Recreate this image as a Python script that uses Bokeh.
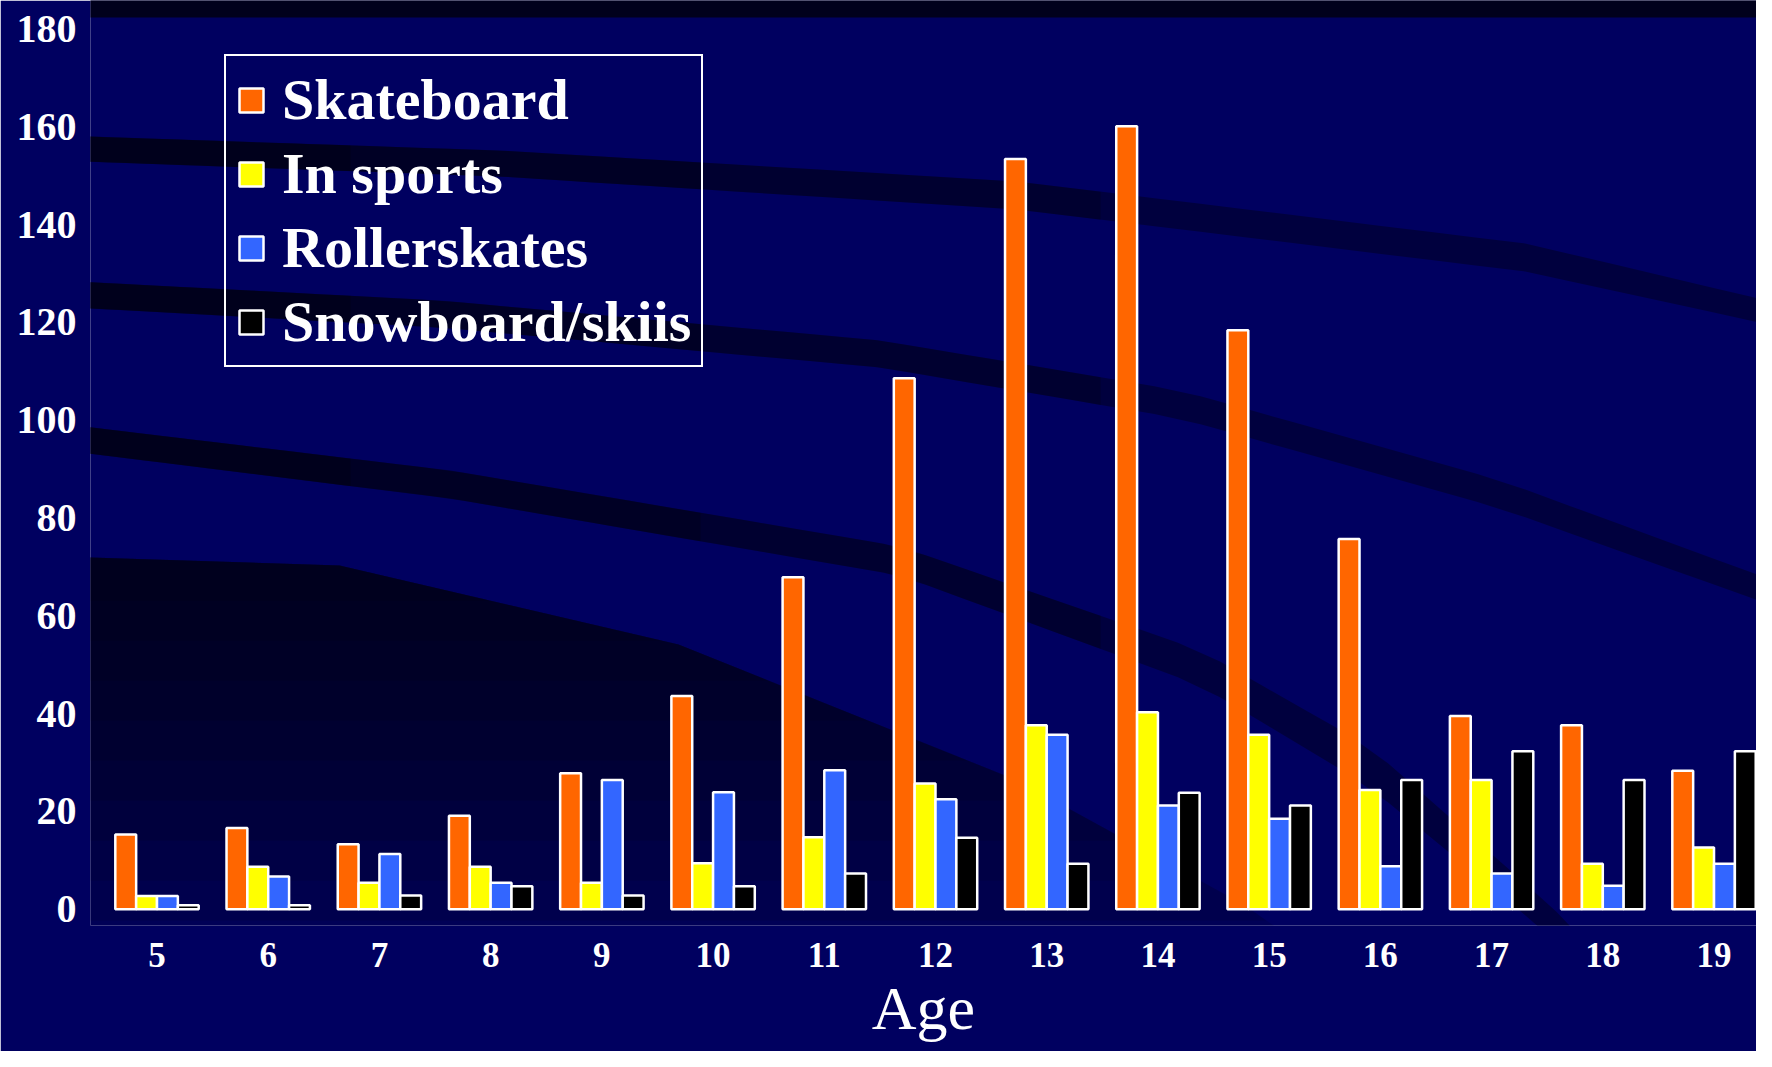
import numpy as np
from bokeh.plotting import figure
from bokeh.models import ColumnDataSource, FixedTicker, Range1d, Legend, LegendItem, PolyAnnotation
from bokeh.transform import dodge
from bokeh.embed import file_html
from bokeh.resources import INLINE

# ---------------- data ----------------
ages = [5, 6, 7, 8, 9, 10, 11, 12, 13, 14, 15, 16, 17, 18, 19]
skateboard = [15.3, 16.6, 13.3, 19.1, 27.8, 43.6, 67.9, 108.6, 153.4, 160.1, 118.4, 75.7, 39.5, 37.6, 28.3]
in_sports = [2.7, 8.7, 5.4, 8.7, 5.4, 9.4, 14.7, 25.7, 37.6, 40.3, 35.7, 24.4, 26.4, 9.3, 12.6]
rollerskates = [2.7, 6.7, 11.3, 5.4, 26.4, 23.9, 28.4, 22.5, 35.7, 21.2, 18.5, 8.8, 7.3, 4.8, 9.3]
snowboard_skiis = [0.8, 0.8, 2.8, 4.7, 2.8, 4.7, 7.3, 14.6, 9.3, 23.8, 21.2, 26.4, 32.3, 26.4, 32.3]
series_names = ["Skateboard", "In sports", "Rollerskates", "Snowboard/skiis"]
y_ticks = [0, 20, 40, 60, 80, 100, 120, 140, 160, 180]
x_label = "Age"

colors = ["#FF6600", "#FFFF00", "#3366FF", "#000000"]
BG = "#000060"

src = ColumnDataSource(dict(age=ages, s0=skateboard, s1=in_sports, s2=rollerskates, s3=snowboard_skiis))

X0, X1 = 4.402, 19.382
Y0, Y1 = -3.33, 185.83
p = figure(width=1756, height=1051, output_backend="svg", toolbar_location=None,
           x_range=Range1d(X0, X1), y_range=Range1d(Y0, Y1),
           min_border_left=90, min_border_right=0, min_border_top=0, min_border_bottom=126)
p.title.visible = False
p.background_fill_color = BG
p.border_fill_color = BG
p.outline_line_color = None
p.grid.visible = False

# ---------------- decorative background swooshes (pixel positions -> frame) ----------------
def dx(px):
    return X0 + (np.asarray(px, dtype=float) - 90) / 111.21

def dy(py):
    return (908.7 - np.asarray(py, dtype=float)) / 4.89

def poly(xs, ys, alpha):
    p.add_layout(PolyAnnotation(xs=list(dx(xs)), ys=list(dy(ys)),
                                fill_color="#000000", fill_alpha=alpha, line_color=None,
                                level="underlay"))

def band(px, top, bot, x_end, alpha):
    xs = np.linspace(0, x_end, 40)
    t = np.interp(xs, px, top)
    b = np.interp(xs, px, bot)
    poly(list(xs) + list(xs[::-1]), list(t) + list(b[::-1]), alpha)

def tapered_band(px, top, bot):
    band(px, top, bot, px[-1], 0.35)
    for xe in (1100, 700, 350):
        band(px, top, bot, xe, 0.22)

poly([0, 1800, 1800, 0], [-10, -10, 17, 17], 0.7)
tapered_band([0, 500, 1017, 1525, 1800], [133, 150, 181, 243, 308], [158, 176, 209, 271, 331])
tapered_band([0, 440, 880, 1180, 1500, 1800], [277, 300, 340, 390, 480, 590], [303, 327, 367, 418, 508, 615])
tapered_band([0, 450, 900, 1200, 1367, 1550, 1640], [416, 470, 546, 650, 745, 905, 1000],
             [442, 498, 575, 685, 785, 935, 1040])

bx = [0, 339, 678, 1017, 1243, 1356, 1420]
by = [554, 565, 644, 780, 904, 983, 1067]
for yb in np.linspace(600, 960, 10):
    xe = float(np.interp(yb, by, bx))
    pts = [(x, y) for x, y in zip(bx, by) if y < yb] + [(xe, yb), (0, yb)]
    poly([q[0] for q in pts], [q[1] for q in pts], 0.1)

# ---------------- bars ----------------
pitch = 0.1875
offsets = [-1.5 * pitch, -0.5 * pitch, 0.5 * pitch, 1.5 * pitch]
renderers = []
for i, (off, col) in enumerate(zip(offsets, colors)):
    r = p.vbar(x=dodge("age", off), top="s%d" % i, bottom=0, width=pitch, source=src,
               fill_color=col, line_color="white", line_width=2.5)
    renderers.append(r)

# ---------------- axes ----------------
font = "Liberation Serif"
p.yaxis.ticker = FixedTicker(ticks=y_ticks)
p.xaxis.ticker = FixedTicker(ticks=ages)
for ax in (p.xaxis, p.yaxis):
    ax.axis_line_color = None
    ax.major_tick_line_color = None
    ax.minor_tick_line_color = None
    ax.major_label_text_color = "white"
    ax.major_label_text_font = font
    ax.major_label_text_font_style = "bold"
p.yaxis.major_label_text_font_size = "40px"
p.yaxis.major_label_standoff = 8
p.xaxis.major_label_text_font_size = "35px"
p.xaxis.major_label_standoff = 11
p.xaxis.axis_label = x_label
p.xaxis.axis_label_text_font = font
p.xaxis.axis_label_text_font_style = "normal"
p.xaxis.axis_label_text_font_size = "62px"
p.xaxis.axis_label_text_color = "white"
p.xaxis.axis_label_standoff = 4

# ---------------- legend ----------------
legend = Legend(items=[LegendItem(label=n, renderers=[r]) for n, r in zip(series_names, renderers)],
                location=(134, 558))
legend.border_line_color = "white"
legend.border_line_width = 2.5
legend.border_line_alpha = 1.0
legend.background_fill_alpha = 0
legend.label_text_color = "white"
legend.label_text_font = font
legend.label_text_font_style = "bold"
legend.label_text_font_size = "58px"
legend.glyph_width = 30
legend.glyph_height = 30
legend.label_standoff = 16
legend.label_height = 60
legend.padding = 10
legend.spacing = 7
legend.margin = 0
p.add_layout(legend)

open("out.html", "w").write(file_html(p, INLINE))
